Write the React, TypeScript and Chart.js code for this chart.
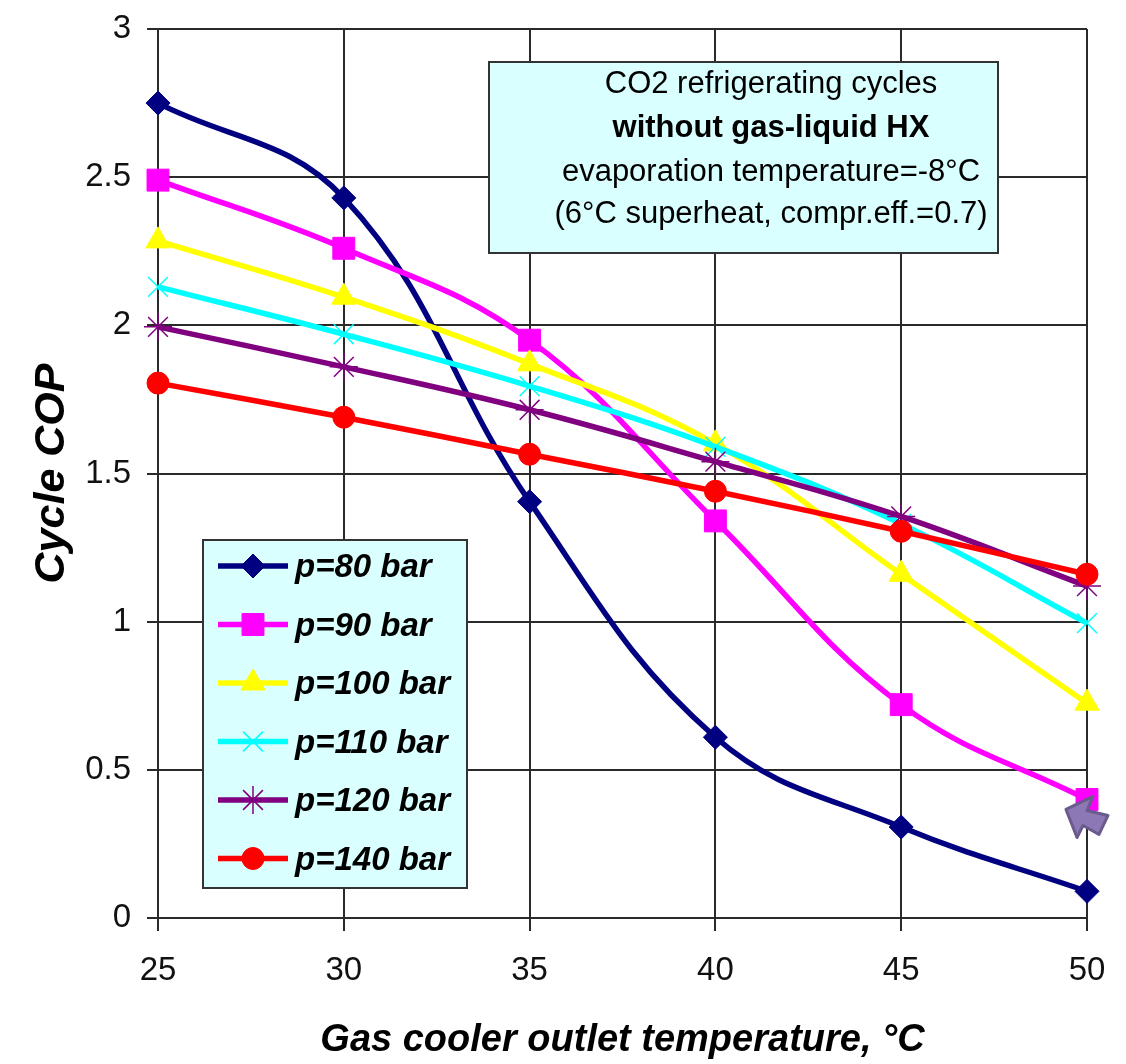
import React, { useEffect, useRef } from 'react';
import { Chart, registerables } from 'chart.js';
import { drawPoint } from 'chart.js/helpers';

Chart.register(...registerables);

const FONT = "'Liberation Sans', Arial, Helvetica, sans-serif";

// ---- data ----
const temperatures = [25, 30, 35, 40, 45, 50];
const seriesLabels = ['p=80 bar', 'p=90 bar', 'p=100 bar', 'p=110 bar', 'p=120 bar', 'p=140 bar'];
const cop80 = [2.75, 2.43, 1.405, 0.61, 0.307, 0.09];
const cop90 = [2.49, 2.26, 1.95, 1.34, 0.72, 0.4];
const cop100 = [2.285, 2.095, 1.87, 1.6, 1.16, 0.725];
const cop110 = [2.13, 1.97, 1.795, 1.59, 1.33, 0.995];
const cop120 = [1.995, 1.86, 1.715, 1.54, 1.355, 1.12];
const cop140 = [1.805, 1.69, 1.565, 1.44, 1.305, 1.16];
const xTickStep = 5;
const yTickStep = 0.5;
const yMin = 0;
const yMax = 3;
const xTitle = 'Gas cooler outlet temperature, °C';
const yTitle = 'Cycle COP';
const noteLines = [
  'CO2 refrigerating cycles',
  'without gas-liquid HX',
  'evaporation temperature=-8°C',
  '(6°C superheat, compr.eff.=0.7)',
];
const arrowTarget = { x: 50, y: 0.4 };

// ---- styles ----
const seriesValues = [cop80, cop90, cop100, cop110, cop120, cop140];
const colors = ['#000080', '#ff00ff', '#ffff00', '#00ffff', '#800080', '#ff0000'];
const pointStyles = ['rectRot', 'rect', 'triangle', 'crossRot', 'star', 'circle'];
const pointRadii = [12, 15.5, 14, 14, 14, 11];
const pointBorderWidths = [1, 1, 1, 1.5, 1.5, 1];
const LINE_W = 5.5;

const datasets = seriesValues.map((vals, i) => ({
  label: seriesLabels[i],
  data: temperatures.map((t, j) => ({ x: t, y: vals[j] })),
  borderColor: colors[i],
  backgroundColor: colors[i],
  borderWidth: LINE_W,
  pointStyle: pointStyles[i],
  pointRadius: pointRadii[i],
  pointBorderWidth: pointBorderWidths[i],
  pointBackgroundColor: colors[i],
  pointBorderColor: colors[i],
  tension: 0.4,
  clip: false,
  order: seriesValues.length - i,
}));

const overlayPlugin = {
  id: 'overlay',
  afterDraw(chart: any) {
    const ctx: CanvasRenderingContext2D = chart.ctx;
    ctx.save();

    // Annotation box
    ctx.fillStyle = '#d9ffff';
    ctx.strokeStyle = '#333';
    ctx.lineWidth = 2;
    ctx.fillRect(489, 62, 509, 191);
    ctx.strokeRect(489, 62, 509, 191);
    ctx.fillStyle = '#000';
    ctx.textAlign = 'center';
    ctx.textBaseline = 'middle';
    const noteY = [84, 128, 172, 214];
    noteLines.forEach((t, i) => {
      ctx.font = `${i === 1 ? 'bold ' : ''}31px ${FONT}`;
      ctx.fillText(t, 771, noteY[i]);
    });

    // Legend box
    ctx.fillStyle = '#d9ffff';
    ctx.fillRect(203, 540, 264, 348);
    ctx.strokeRect(203, 540, 264, 348);
    const rowY0 = 566;
    const rowStep = 58.5;
    chart.data.datasets.forEach((ds: any, i: number) => {
      const y = rowY0 + i * rowStep;
      ctx.strokeStyle = ds.borderColor;
      ctx.lineWidth = LINE_W;
      ctx.beginPath();
      ctx.moveTo(218, y);
      ctx.lineTo(288, y);
      ctx.stroke();
      ctx.fillStyle = ds.pointBackgroundColor;
      ctx.strokeStyle = ds.pointBorderColor;
      ctx.lineWidth = ds.pointBorderWidth;
      drawPoint(ctx, { pointStyle: ds.pointStyle, radius: ds.pointRadius, rotation: 0, borderWidth: ds.pointBorderWidth }, 253, y);
      ctx.fillStyle = '#000';
      ctx.textAlign = 'left';
      ctx.textBaseline = 'middle';
      ctx.font = `italic bold 33px ${FONT}`;
      ctx.fillText(ds.label, 295, y + 2);
    });

    // Arrow pointing to the last p=90 point
    const ax = chart.scales.x.getPixelForValue(arrowTarget.x);
    const ay = chart.scales.y.getPixelForValue(arrowTarget.y);
    const pts = [
      [-21, 10],
      [6, -3],
      [0, 11],
      [21, 16],
      [12, 35],
      [-4, 26],
      [-10, 38],
    ];
    ctx.beginPath();
    pts.forEach(([dx, dy], k) => (k === 0 ? ctx.moveTo(ax + dx, ay + dy) : ctx.lineTo(ax + dx, ay + dy)));
    ctx.closePath();
    ctx.fillStyle = '#8c78b4';
    ctx.strokeStyle = '#6b5a8c';
    ctx.lineWidth = 3;
    ctx.lineJoin = 'round';
    ctx.fill();
    ctx.stroke();

    ctx.restore();
  },
};

export default function App() {
  const ref = useRef<HTMLCanvasElement>(null);
  useEffect(() => {
    if (!ref.current) return;
    const chart = new Chart(ref.current, {
      type: 'line',
      data: { datasets: datasets as any },
      options: {
        animation: false,
        responsive: false,
        devicePixelRatio: 1,
        layout: { padding: { top: 29, right: 39, left: 0, bottom: 0 } },
        plugins: { legend: { display: false }, tooltip: { enabled: false } },
        scales: {
          x: {
            type: 'linear',
            min: temperatures[0],
            max: temperatures[temperatures.length - 1],
            ticks: { stepSize: xTickStep, color: '#111', padding: 20, font: { family: FONT, size: 33 } },
            grid: { color: '#2a2a2a', lineWidth: 2, tickLength: 13 },
            border: { color: '#2a2a2a', width: 2 },
            title: {
              display: true,
              text: xTitle,
              color: '#000',
              font: { family: FONT, size: 38, weight: 'bold', style: 'italic' },
              padding: { top: 0, bottom: 1 },
            },
            afterFit: (s: any) => {
              s.height = 146;
            },
          },
          y: {
            type: 'linear',
            min: yMin,
            max: yMax,
            ticks: {
              stepSize: yTickStep,
              color: '#111',
              padding: 16,
              font: { family: FONT, size: 33 },
              callback: (v: any) => String(Number(v)),
            },
            grid: { color: '#2a2a2a', lineWidth: 2, tickLength: 11 },
            border: { color: '#2a2a2a', width: 2 },
            title: {
              display: true,
              text: yTitle,
              color: '#000',
              font: { family: FONT, size: 43, weight: 'bold', style: 'italic' },
              padding: { top: 26, bottom: 0 },
            },
            afterFit: (s: any) => {
              s.width = 158;
              s.paddingTop = 0;
              s.paddingBottom = 0;
            },
          },
        },
      },
      plugins: [overlayPlugin],
    } as any);
    return () => chart.destroy();
  }, []);
  return (
    <div style={{ position: 'absolute', left: 0, top: 0, width: 1126, height: 1064, background: '#fff' }}>
      <canvas ref={ref} width={1126} height={1064} style={{ display: 'block', width: 1126, height: 1064 }} />
    </div>
  );
}
